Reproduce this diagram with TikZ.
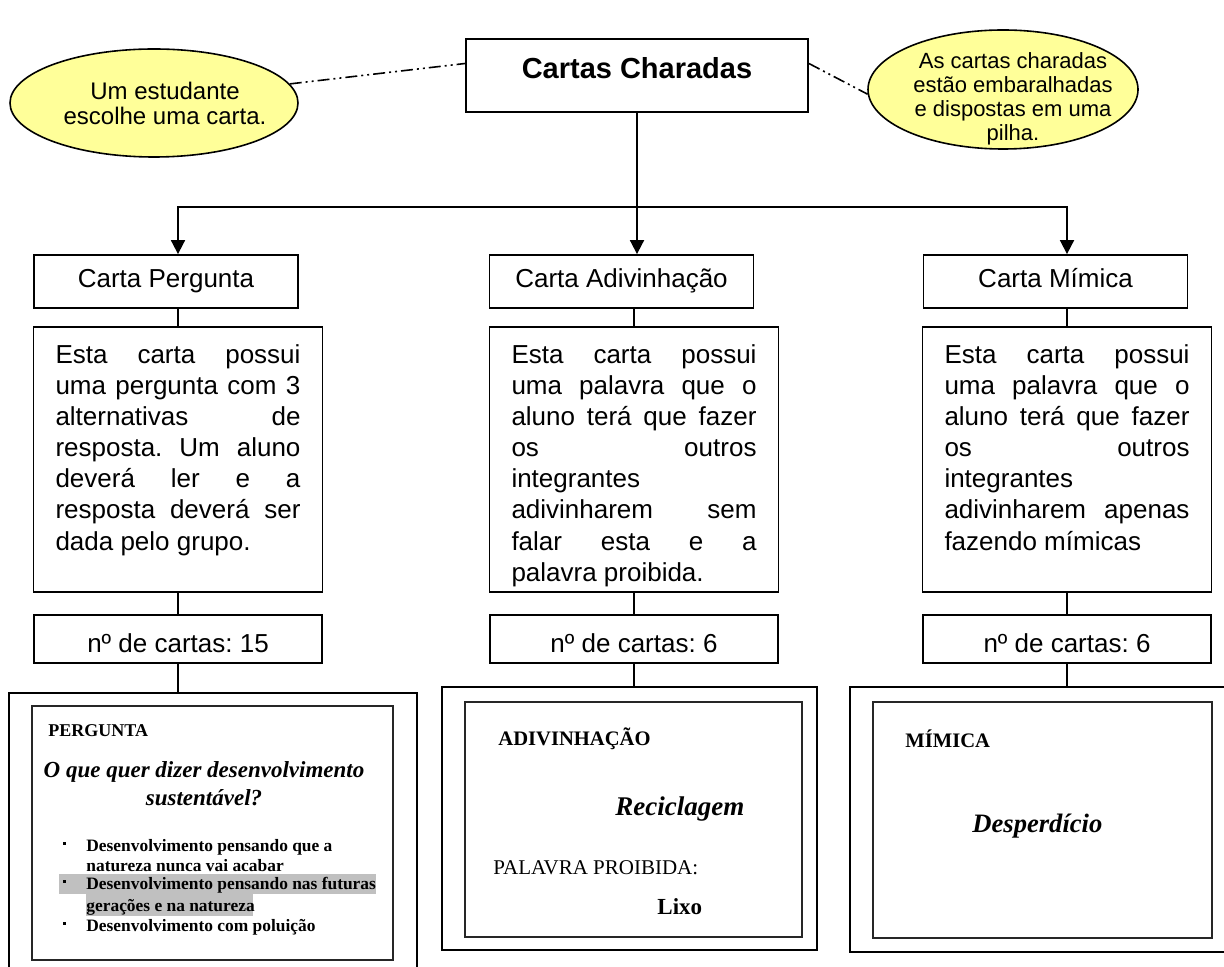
\documentclass[tikz,border=0pt]{standalone}
\usepackage{fontspec}
\setmainfont{Liberation Sans}
\newfontfamily\cardserif{Liberation Serif}
\usetikzlibrary{arrows.meta,shapes.geometric}

\definecolor{balloonyellow}{RGB}{255,255,153}
\definecolor{markgray}{RGB}{192,192,192}

\tikzset{
	flowbox/.style={draw, line width=0.9pt, inner sep=0pt, font=\fontsize{13}{15.5}\selectfont},
	headbox/.style={flowbox, minimum width=132pt, minimum height=26.5pt, text height=9.3pt, text depth=3pt},
	descbox/.style={flowbox, text width=122.5pt, align=justify, inner xsep=11pt, text height=18.5pt, text depth=114pt},
	countbox/.style={flowbox, minimum width=144pt, minimum height=24pt, text height=16pt, text depth=2.7pt},
	titlebox/.style={flowbox, minimum width=171pt, minimum height=36.5pt, font=\bfseries\fontsize{14.5}{17}\selectfont, text height=10.4pt, text depth=7.5pt},
	balloonnode/.style={ellipse, draw, line width=0.8pt, fill=balloonyellow, inner sep=0pt, align=center, font=\fontsize{12}{12.5}\selectfont},
	cardframe/.style={draw, line width=0.9pt, inner sep=0pt},
	joint/.style={line width=0.9pt},
	tiparrow/.style={joint, -{Triangle[length=7pt, width=7pt]}},
	aside/.style={line width=0.8pt, dash pattern=on 6pt off 2pt on 1pt off 2pt on 1pt off 2pt},
	shot/.style={draw=black!85, line width=1.4pt},
	cardtext/.style={anchor=base west, inner sep=0pt},
	optline/.style={cardtext, font=\cardserif\bfseries\fontsize{8.7}{10}\selectfont}
}

\begin{document}
\frenchspacing
\begin{tikzpicture}[x=0.5pt, y=-0.5pt]
	%%%%% START %%%%%
	\useasboundingbox (0,0) rectangle (1224,967);
	
	% top of the chart
	\node[titlebox] (title) at (637,75.5) {Cartas Charadas};
	\node[balloonnode, minimum width=144pt, minimum height=54pt, inner xsep=-7pt] (escolhe) at (154,103) {\hspace*{11pt}Um estudante\\\hspace*{11pt}escolhe uma carta.};
	\node[balloonnode, minimum width=135pt, minimum height=59.5pt, inner xsep=-10pt, inner ysep=-10pt, text height=51.5pt, text depth=0pt, font=\fontsize{11}{12}\selectfont] (pilha) at (1003,89.5) {\hspace*{10pt}As cartas charadas\\\hspace*{10pt}estão embaralhadas\\\hspace*{10pt}e dispostas em uma\\\hspace*{10pt}pilha.};
	
	\draw[aside] (escolhe.8) -- ([yshift=6pt]title.west);
	\draw[aside] ([yshift=6pt]title.east) -- (pilha.182);
	
	% the three kinds of card
	\node[headbox] (cartaP) at (166,281.5) {Carta Pergunta};
	\node[headbox] (cartaA) at (621.5,281.5) {Carta Adivinhação};
	\node[headbox] (cartaM) at (1055.5,281.5) {Carta Mímica};
	
	\node[descbox] (descP) at (178,459.5) {Esta carta possui\linebreak uma pergunta com 3\linebreak alternativas de\linebreak resposta. Um aluno\linebreak deverá ler e a\linebreak resposta deverá ser\linebreak dada pelo grupo.};
	\node[descbox] (descA) at (634,459.5) {Esta carta possui\linebreak uma palavra que o\linebreak aluno terá que fazer\linebreak os outros\linebreak integrantes\linebreak adivinharem sem\linebreak falar esta e a\linebreak palavra proibida.};
	\node[descbox] (descM) at (1067,459.5) {Esta carta possui\linebreak uma palavra que o\linebreak aluno terá que fazer\linebreak os outros\linebreak integrantes\linebreak adivinharem apenas\linebreak fazendo mímicas};
	
	\node[countbox] (countP) at (178,639) {nº de cartas: 15};
	\node[countbox] (countA) at (634,639) {nº de cartas: 6};
	\node[countbox] (countM) at (1067,639) {nº de cartas: 6};
	
	\node[cardframe, minimum width=204pt, minimum height=139.5pt] (frameP) at (213,832.5) {};
	\node[cardframe, minimum width=187.5pt, minimum height=131.5pt] (frameA) at (629.5,818.5) {};
	\node[cardframe, minimum width=188.5pt, minimum height=132.5pt] (frameM) at (1038.5,819.5) {};
	
	% connectors
	\coordinate (fork) at (637,207);
	\draw[joint] (title.south) -- (fork);
	\draw[tiparrow] (fork) -- (fork |- cartaA.north);
	\draw[tiparrow] (fork) -| (cartaP.north -| descP.north);
	\draw[tiparrow] (fork) -| (cartaM.north -| descM.north);
	
	\foreach \c in {P,A,M}{
		\draw[joint] (carta\c.south -| desc\c.north) -- (desc\c.north);
		\draw[joint] (desc\c.south) -- (count\c.north);
		\draw[joint] (count\c.south) -- (count\c.south |- frame\c.north);
	}
	
	% card: pergunta
	\draw[shot] (32,706) rectangle (393,960);
	\fill[markgray] (59,874) rectangle (376,894);
	\fill[markgray] (86,894) rectangle (253,916);
	\node[cardtext, font=\cardserif\bfseries\fontsize{9}{11}\selectfont] (pergHead) at (48,736) {PERGUNTA};
	\node[anchor=base, inner sep=0pt, align=center, font=\cardserif\bfseries\itshape\fontsize{11.5}{14}\selectfont] (pergAsk) at (204,805) {O que quer dizer desenvolvimento\\sustentável?};
	\foreach \y in {843,881,923}
		\fill (62.5,\y-1.5) rectangle +(3,3);
	\node[optline] (pergOne) at (86,851) {Desenvolvimento pensando que a};
	\node[optline] (pergOneB) at (86,871) {natureza nunca vai acabar};
	\node[optline] (pergTwo) at (86,889) {Desenvolvimento pensando nas futuras};
	\node[optline] (pergTwoB) at (86,911) {gerações e na natureza};
	\node[optline] (pergThree) at (86,931) {Desenvolvimento com poluição};
	
	% card: adivinhacao
	\draw[shot] (465,702) rectangle (802,937);
	\node[cardtext, font=\cardserif\bfseries\fontsize{10.3}{12}\selectfont] (advHead) at (498,745) {ADIVINHAÇÃO};
	\node[cardtext, font=\cardserif\bfseries\itshape\fontsize{13.5}{16}\selectfont] (advWord) at (615,815) {Reciclagem};
	\node[cardtext, font=\cardserif\fontsize{10.5}{12}\selectfont] (advBan) at (493,874) {PALAVRA PROIBIDA:};
	\node[cardtext, font=\cardserif\bfseries\fontsize{11.5}{13}\selectfont] (advLixo) at (657,914) {Lixo};
	
	% card: mimica
	\draw[shot] (873,702) rectangle (1212,938);
	\node[cardtext, font=\cardserif\bfseries\fontsize{10.3}{12}\selectfont] (mimHead) at (905,747) {MÍMICA};
	\node[cardtext, font=\cardserif\bfseries\itshape\fontsize{13.3}{16}\selectfont] (mimWord) at (972,832) {Desperdício};
	
	%%%%% END %%%%%
\end{tikzpicture}
\end{document}
